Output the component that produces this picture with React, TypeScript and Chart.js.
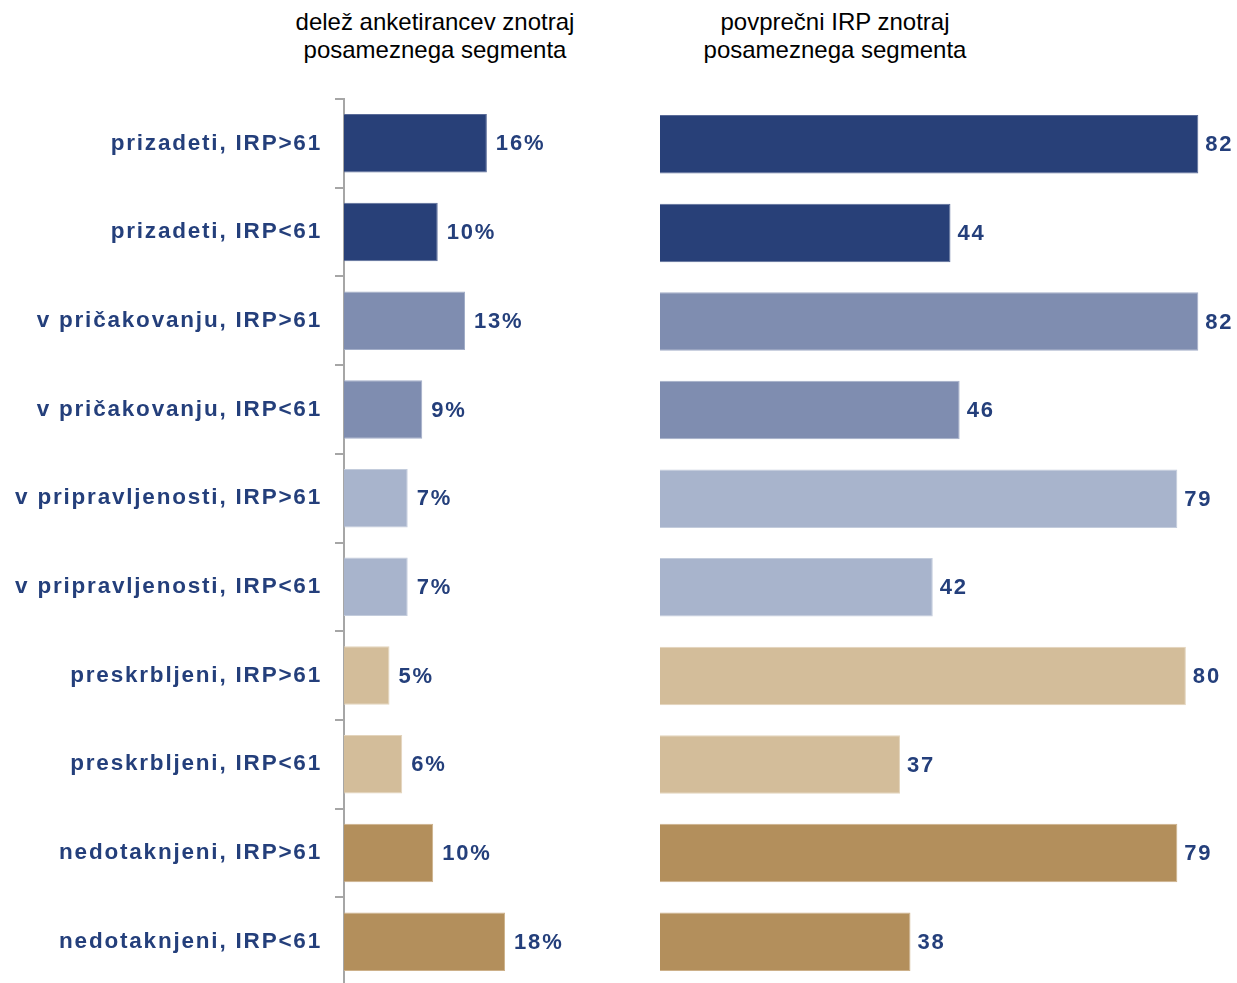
import React, { useEffect, useRef } from "react";
import { Chart, registerables } from "chart.js";

Chart.register(...registerables);

const categories = [
  "prizadeti, IRP>61",
  "prizadeti, IRP<61",
  "v pričakovanju, IRP>61",
  "v pričakovanju, IRP<61",
  "v pripravljenosti, IRP>61",
  "v pripravljenosti, IRP<61",
  "preskrbljeni, IRP>61",
  "preskrbljeni, IRP<61",
  "nedotaknjeni, IRP>61",
  "nedotaknjeni, IRP<61",
];

const shareValues = [15.7, 10.3, 13.3, 8.6, 7.0, 7.0, 5.0, 6.4, 9.8, 17.7];
const irpValues = [82.1, 44.3, 82.1, 45.7, 78.9, 41.6, 80.2, 36.6, 78.9, 38.2];

const leftTitle = ["delež anketirancev znotraj", "posameznega segmenta"];
const rightTitle = ["povprečni IRP znotraj", "posameznega segmenta"];

const segmentColors = [
  "#284078", "#284078",
  "#7F8DB0", "#7F8DB0",
  "#A8B4CC", "#A8B4CC",
  "#D3BD9A", "#D3BD9A",
  "#B38F5C", "#B38F5C",
];
const segmentBorders = [
  "#5A6B98", "#5A6B98",
  "#A3AEC8", "#A3AEC8",
  "#C3CCDC", "#C3CCDC",
  "#E3D4BC", "#E3D4BC",
  "#CDB18A", "#CDB18A",
];

const NAVY = "#243F7B";
const FONT_FAMILY = "'Liberation Sans', Arial, sans-serif";
const LETTER_SPACING = "1.8px";

function valueLabelPlugin(offset: number, suffix: string) {
  return {
    id: "valueLabels",
    beforeDraw(chart: any) {
      try {
        (chart.ctx as any).letterSpacing = LETTER_SPACING;
      } catch (e) {}
    },
    afterDatasetsDraw(chart: any) {
      const ctx = chart.ctx;
      const meta = chart.getDatasetMeta(0);
      const data = chart.data.datasets[0].data as number[];
      ctx.save();
      try {
        (ctx as any).letterSpacing = LETTER_SPACING;
      } catch (e) {}
      ctx.font = `bold 22px ${FONT_FAMILY}`;
      ctx.fillStyle = NAVY;
      ctx.textAlign = "left";
      ctx.textBaseline = "middle";
      meta.data.forEach((bar: any, i: number) => {
        ctx.fillText(Math.round(data[i]) + suffix, bar.x + offset, bar.y + 1);
      });
      ctx.restore();
    },
  };
}

export default function App() {
  const leftRef = useRef<HTMLCanvasElement | null>(null);
  const rightRef = useRef<HTMLCanvasElement | null>(null);

  useEffect(() => {
    if (!leftRef.current || !rightRef.current) return;

    const left = new Chart(leftRef.current, {
      type: "bar",
      data: {
        labels: categories,
        datasets: [
          {
            data: shareValues,
            backgroundColor: segmentColors,
            borderColor: segmentBorders,
            borderWidth: 1,
            barPercentage: 1,
            categoryPercentage: 0.66,
          },
        ],
      },
      options: {
        indexAxis: "y",
        responsive: false,
        animation: false,
        events: [],
        layout: { padding: { top: 99, bottom: 0, left: 0, right: 3 } },
        plugins: { legend: { display: false }, tooltip: { enabled: false }, title: { display: false } },
        scales: {
          x: { display: false, min: 0, max: 30 },
          y: {
            display: true,
            afterFit: (scale: any) => {
              scale.width = 344;
              scale.paddingTop = 0;
              scale.paddingBottom = 0;
            },
            grid: {
              display: true,
              drawOnChartArea: false,
              drawTicks: true,
              tickLength: 9,
              color: "#A6A6A6",
              lineWidth: 2,
            },
            border: { display: true, color: "#A6A6A6", width: 2 },
            ticks: {
              padding: 13,
              color: NAVY,
              font: { family: FONT_FAMILY, size: 22.5, weight: "bold" },
              autoSkip: false,
            },
          },
        },
      },
      plugins: [valueLabelPlugin(9, "%")],
    } as any);

    const right = new Chart(rightRef.current, {
      type: "bar",
      data: {
        labels: categories,
        datasets: [
          {
            data: irpValues,
            backgroundColor: segmentColors,
            borderColor: segmentBorders,
            borderWidth: 1,
            barPercentage: 1,
            categoryPercentage: 0.66,
          },
        ],
      },
      options: {
        indexAxis: "y",
        responsive: false,
        animation: false,
        events: [],
        layout: { padding: { top: 100, bottom: 0, left: 20, right: 0 } },
        plugins: { legend: { display: false }, tooltip: { enabled: false }, title: { display: false } },
        scales: {
          x: { display: false, min: 0, max: 88 },
          y: { display: false },
        },
      },
      plugins: [valueLabelPlugin(7, "")],
    } as any);

    return () => {
      left.destroy();
      right.destroy();
    };
  }, []);

  const titleStyle: React.CSSProperties = {
    position: "absolute",
    top: 8,
    width: 440,
    textAlign: "center",
    fontFamily: FONT_FAMILY,
    fontSize: 24,
    lineHeight: "28px",
    color: "#000",
    whiteSpace: "nowrap",
  };

  return (
    <div
      style={{
        position: "absolute",
        left: 0,
        top: 0,
        width: 1237,
        height: 983,
        overflow: "hidden",
        background: "#fff",
      }}
    >
      <div style={{ ...titleStyle, left: 435 - 220 }}>
        {leftTitle.map((t) => (
          <div key={t}>{t}</div>
        ))}
      </div>
      <div style={{ ...titleStyle, left: 835 - 220 }}>
        {rightTitle.map((t) => (
          <div key={t}>{t}</div>
        ))}
      </div>
      <canvas
        ref={leftRef}
        width={620}
        height={986}
        style={{ position: "absolute", left: 0, top: 0, width: 620, height: 986 }}
      />
      <canvas
        ref={rightRef}
        width={597}
        height={986}
        style={{ position: "absolute", left: 640, top: 0, width: 597, height: 986 }}
      />
    </div>
  );
}
